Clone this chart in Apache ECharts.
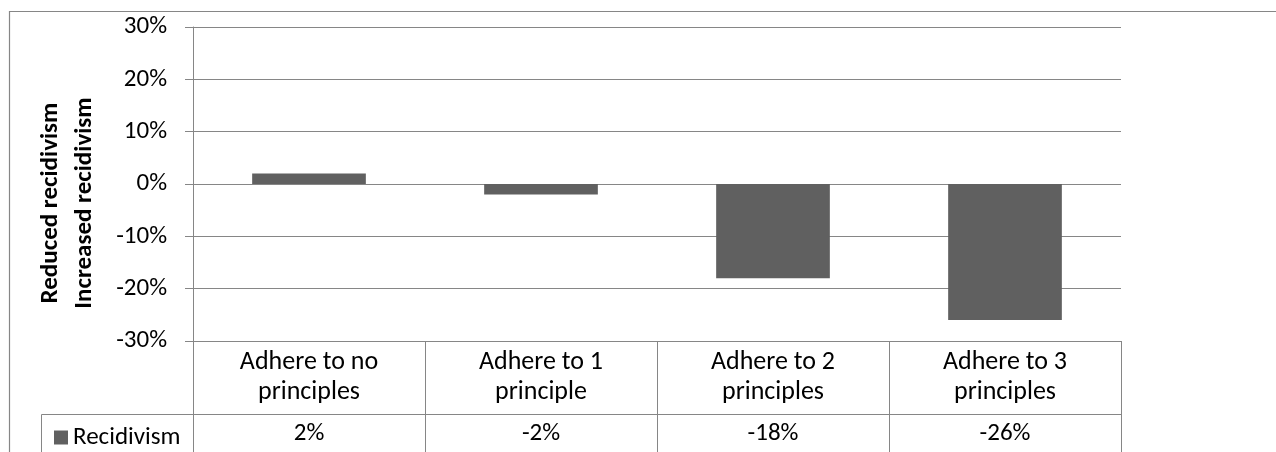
<!DOCTYPE html>
<html>
<head>
<meta charset="utf-8">
<script src="https://cdn.jsdelivr.net/npm/echarts@6/dist/echarts.min.js"></script>
<style>
  html, body { margin: 0; padding: 0; background: #ffffff; }
  #chart { width: 1276px; height: 452px; }
</style>
</head>
<body>
<div id="chart"></div>
<script>
// Recidivism change by number of principles adhered to
const categories = ['Adhere to no\nprinciples', 'Adhere to 1\nprinciple', 'Adhere to 2\nprinciples', 'Adhere to 3\nprinciples'];
const recidivism = [2, -2, -18, -26];
const seriesName = 'Recidivism';
const yTicks = { min: -30, max: 30, step: 10 };
const axisTitle = 'Reduced recidivism\nIncreased recidivism';

const FONT = 'Carlito, Calibri, Lato, sans-serif';
const LINE = '#868686';
const BAR = '#606060';

const chart = echarts.init(document.getElementById('chart'), null, { renderer: 'canvas' });

chart.setOption({
  animation: false,
  backgroundColor: '#ffffff',
  textStyle: { fontFamily: FONT, color: '#000' },
  grid: { left: 193, right: 155, top: 27, bottom: 111, containLabel: false },
  legend: {
    data: [{ name: seriesName, icon: 'rect' }],
    left: 49, top: 420,
    itemWidth: 14, itemHeight: 14,
    textStyle: { fontFamily: FONT, fontSize: 25, color: '#000' },
    selectedMode: false
  },
  xAxis: [
    {
      // category row of the data table; ticks form the column separators
      type: 'category',
      data: categories,
      position: 'bottom',
      axisLine: { show: true, onZero: false, lineStyle: { color: LINE, width: 1 } },
      axisTick: { show: true, length: 111, lineStyle: { color: LINE, width: 1 } },
      axisLabel: {
        fontFamily: FONT, fontSize: 26, lineHeight: 30, color: '#000',
        margin: 6, interval: 0, align: 'center', verticalAlign: 'top'
      },
      splitLine: { show: false }
    },
    {
      // value row of the data table
      type: 'category',
      data: recidivism.map(v => v + '%'),
      position: 'bottom',
      offset: 73,
      axisLine: { show: true, onZero: false, lineStyle: { color: LINE, width: 1 } },
      axisTick: { show: false },
      axisLabel: {
        fontFamily: FONT, fontSize: 25, lineHeight: 30, color: '#000',
        margin: 5, interval: 0, verticalAlign: 'top'
      },
      splitLine: { show: false }
    }
  ],
  yAxis: {
    type: 'value',
    min: yTicks.min, max: yTicks.max, interval: yTicks.step,
    name: axisTitle,
    nameLocation: 'middle',
    nameRotate: 90,
    nameGap: 125,
    nameMoveOverlap: false,
    nameTextStyle: {
      fontFamily: FONT, fontSize: 25, fontWeight: 'bold', lineHeight: 34,
      color: '#000', align: 'center', verticalAlign: 'middle',
      padding: [0, 38, 0, 0]
    },
    axisLine: { show: true, lineStyle: { color: LINE, width: 1 } },
    axisTick: { show: true, length: 8, inside: false, lineStyle: { color: LINE, width: 1 } },
    axisLabel: { fontFamily: FONT, fontSize: 25, color: '#000', margin: 26, formatter: '{value}%' },
    splitLine: { show: true, lineStyle: { color: LINE, width: 1 } }
  },
  series: [{
    name: seriesName,
    type: 'bar',
    xAxisIndex: 0,
    data: recidivism,
    barWidth: '49%',
    itemStyle: { color: BAR },
    emphasis: { disabled: true }
  }],
  graphic: [
    {
      // chart frame
      type: 'rect', silent: true, z: -1,
      shape: { x: 9.5, y: 11.5, width: 1400, height: 600 },
      style: { fill: 'none', stroke: LINE, lineWidth: 1.2 }
    },
    {
      // legend key cell of the data table
      type: 'polyline', silent: true,
      shape: { points: [[41.5, 460], [41.5, 414.5], [193, 414.5]] },
      style: { fill: 'none', stroke: LINE, lineWidth: 1 }
    }
  ]
});
</script>
</body>
</html>
